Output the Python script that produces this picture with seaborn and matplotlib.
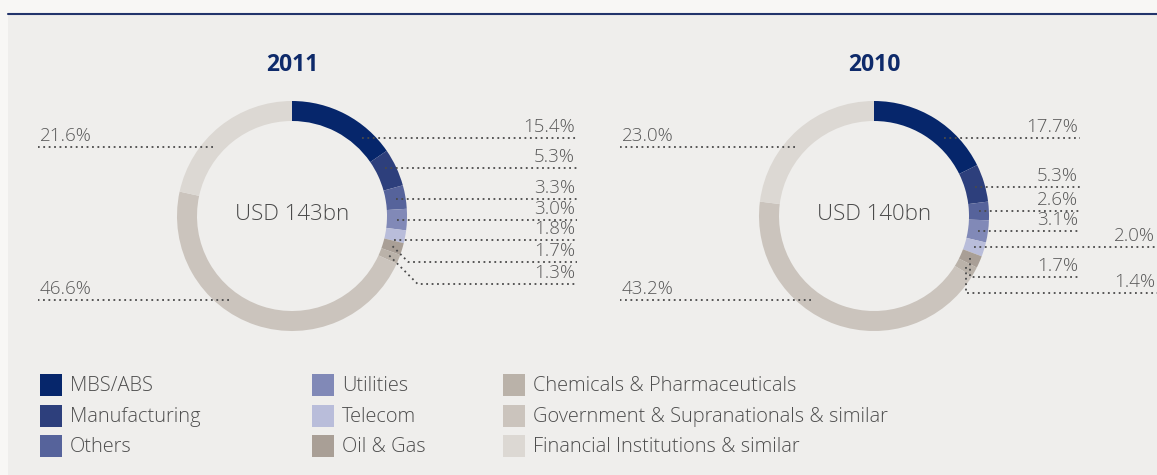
import numpy as np
import matplotlib
matplotlib.use('Agg')
import matplotlib.pyplot as plt
from matplotlib.patches import Rectangle
import seaborn as sns

# data
categories = ['MBS/ABS', 'Manufacturing', 'Others', 'Utilities', 'Telecom', 'Oil & Gas',
              'Chemicals & Pharmaceuticals', 'Government & Supranationals & similar',
              'Financial Institutions & similar']
share_2011 = [15.4, 5.3, 3.3, 3.0, 1.8, 1.7, 1.3, 46.6, 21.6]
share_2010 = [17.7, 5.3, 2.6, 3.1, 2.0, 1.7, 1.4, 43.2, 23.0]
years = ['2011', '2010']
totals = ['USD 143bn', 'USD 140bn']

palette = sns.color_palette(['#06266b', '#2d3f7c', '#56639b', '#8189b7', '#b9bdda',
                             '#a99f96', '#bab2a9', '#cbc4bd', '#dcd8d3'])

W, H = 1157, 475
R, RING = 115, 20

# layout (pixels from top-left) for each donut
layouts = [
    dict(cx=292, cy=216,
         rows=[138, 168, 199, 220, 240, 262, 284, 300, 147],
         ends=[577, 577, 577, 577, 577, 577, 577, 38, 38],
         elbow='diag'),
    dict(cx=874, cy=216,
         rows=[138, 187, 211, 231, 247, 277, 293, 300, 147],
         ends=[1080, 1080, 1080, 1080, 1157, 1080, 1157, 620, 620],
         elbow='vert'),
]

sns.set_theme(style='white')
plt.rcParams['font.family'] = ['Open Sans', 'DejaVu Sans']

fig = plt.figure(figsize=(W / 100, H / 100), dpi=100, facecolor='#f8f7f5')
ax = fig.add_axes([0, 0, 1, 1])
ax.set_facecolor('#f8f7f5')

# panel + navy rule on top
ax.add_patch(Rectangle((8, 0), W - 8, H - 15, facecolor='#efeeec', edgecolor='none', zorder=0))
ax.plot([8, W], [H - 14, H - 14], color='#22346b', lw=1.5, zorder=1)

dot = dict(color='#4a4a4a', lw=1.3, linestyle=(0, (1, 2)), zorder=3)
lab = dict(color='#595959', fontsize=13.5, fontweight='light', zorder=4)

for year, total, shares, lay in zip(years, totals, [share_2011, share_2010], layouts):
    cx, cy = lay['cx'], H - lay['cy']
    wedges, _ = ax.pie(shares, colors=palette, startangle=90, counterclock=False,
                       radius=R, center=(cx, cy), frame=True,
                       wedgeprops=dict(width=RING, linewidth=0))
    ax.text(cx, H - 65, year, ha='center', va='center', fontsize=16.5,
            fontweight='bold', color='#0e2a6a')
    ax.text(cx, cy + 2, total, ha='center', va='center', fontsize=16,
            color='#4a4a4a', fontweight='light')

    rmid = R - RING / 2
    for w, v, ly, xe in zip(wedges, shares, lay['rows'], lay['ends']):
        t1, t2 = sorted((w.theta1, w.theta2))
        yd = H - ly
        right = xe > cx
        s = np.clip((yd - cy) / rmid, -1, 1)
        a = np.degrees(np.arcsin(s))
        if not right:
            a = 180 - a
        if (a - t1) % 360 <= (t2 - t1):
            x0 = cx + rmid * np.cos(np.radians(a))
            ax.plot([x0, xe], [yd, yd], **dot)
        else:
            m = np.radians((t1 + t2) / 2)
            px, py = cx + rmid * np.cos(m), cy + rmid * np.sin(m)
            kx = px + abs(py - yd) if lay['elbow'] == 'diag' else px
            ax.plot([px, kx, xe], [py, yd, yd], **dot)
        if right:
            ax.text(xe - 2, yd + 2, f'{v:.1f}%', ha='right', va='bottom', **lab)
        else:
            ax.text(xe + 2, yd + 2, f'{v:.1f}%', ha='left', va='bottom', **lab)

# legend, three columns
col_x = [40, 312, 503]
row_y = [385, 416, 446]
for i, (name, c) in enumerate(zip(categories, palette)):
    x, y = col_x[i // 3], H - row_y[i % 3]
    ax.add_patch(Rectangle((x, y - 11), 22, 22, facecolor=c, edgecolor='none'))
    ax.text(x + 30, y - 1, name, ha='left', va='center', fontsize=14.4,
            color='#4e4e4e', fontweight='light')

ax.set_xlim(0, W)
ax.set_ylim(0, H)
ax.set_aspect('auto')
ax.axis('off')

fig.savefig('out.png', dpi=100, facecolor=fig.get_facecolor())
